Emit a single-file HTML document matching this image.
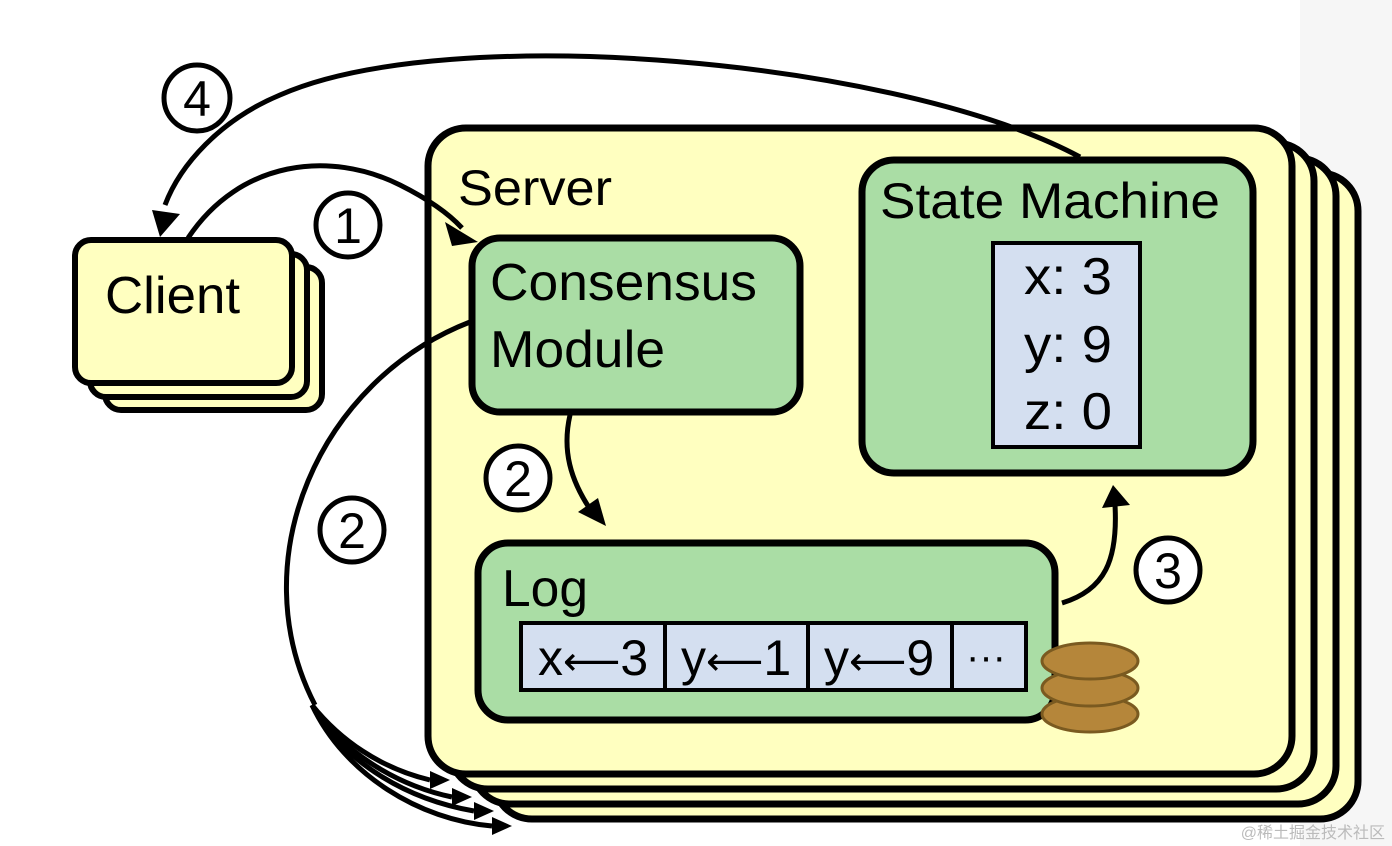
<!DOCTYPE html>
<html><head><meta charset="utf-8"><style>
html,body{margin:0;padding:0;background:#fff;}
svg{display:block;}
text{font-family:"Liberation Sans",sans-serif;fill:#000;}
.ar{font-family:"DejaVu Sans",sans-serif;}
</style></head><body>
<svg width="1392" height="846" viewBox="0 0 1392 846" xmlns="http://www.w3.org/2000/svg">
<rect x="1300" y="0" width="92" height="846" fill="#f6f6f6"/>
<!-- server stack -->
<g stroke="#000" stroke-width="7" fill="#ffffc0">
<rect x="494" y="173" width="864" height="646" rx="38"/>
<rect x="472" y="158" width="864" height="646" rx="38"/>
<rect x="450" y="143" width="864" height="646" rx="38"/>
<rect x="428" y="128" width="864" height="646" rx="38"/>
</g>
<!-- client stack -->
<g stroke="#000" stroke-width="6" fill="#ffffc0">
<rect x="105" y="267" width="217" height="143" rx="16"/>
<rect x="90" y="254" width="217" height="143" rx="16"/>
<rect x="75" y="240" width="217" height="143" rx="16"/>
</g>
<text x="105" y="313" font-size="52" textLength="135" lengthAdjust="spacingAndGlyphs">Client</text>
<text x="458" y="205" font-size="50" textLength="154" lengthAdjust="spacingAndGlyphs">Server</text>
<!-- consensus -->
<rect x="472" y="238" width="328" height="174" rx="28" fill="#aadda5" stroke="#000" stroke-width="7"/>
<text x="490" y="300" font-size="52" textLength="267" lengthAdjust="spacingAndGlyphs">Consensus</text>
<text x="490" y="367" font-size="52" textLength="175" lengthAdjust="spacingAndGlyphs">Module</text>
<!-- state machine -->
<rect x="862" y="160" width="391" height="313" rx="32" fill="#aadda5" stroke="#000" stroke-width="7"/>
<text x="880" y="218" font-size="50" textLength="340" lengthAdjust="spacingAndGlyphs">State Machine</text>
<rect x="993" y="243" width="147" height="204" fill="#d4dff0" stroke="#000" stroke-width="4"/>
<text x="1024" y="294" font-size="52" textLength="88" lengthAdjust="spacingAndGlyphs">x: 3</text>
<text x="1024" y="362" font-size="52" textLength="88" lengthAdjust="spacingAndGlyphs">y: 9</text>
<text x="1024" y="429" font-size="52" textLength="88" lengthAdjust="spacingAndGlyphs">z: 0</text>
<!-- log -->
<rect x="478" y="543" width="577" height="177" rx="30" fill="#aadda5" stroke="#000" stroke-width="7"/>
<text x="502" y="606" font-size="52" textLength="86" lengthAdjust="spacingAndGlyphs">Log</text>
<g fill="#d4dff0" stroke="#000" stroke-width="4">
<rect x="521" y="623" width="144" height="67"/>
<rect x="665" y="623" width="143" height="67"/>
<rect x="808" y="623" width="144" height="67"/>
<rect x="952" y="623" width="74" height="67"/>
</g>
<text x="538" y="675" font-size="50">x<tspan class="ar" font-size="40">⟵</tspan>3</text>
<text x="681" y="675" font-size="50">y<tspan class="ar" font-size="40">⟵</tspan>1</text>
<text x="824" y="675" font-size="50">y<tspan class="ar" font-size="40">⟵</tspan>9</text>
<text x="966" y="670" font-size="40">···</text>
<!-- coins -->
<g fill="#b5863a" stroke="#7a5a20" stroke-width="3">
<ellipse cx="1090" cy="714" rx="48" ry="18"/>
<ellipse cx="1090" cy="688" rx="48" ry="18"/>
<ellipse cx="1090" cy="661" rx="48" ry="18"/>
</g>
<!-- arrows -->
<g fill="none" stroke="#000" stroke-width="5">
<path d="M1080,157 C900,60 450,20 280,95 C220,120 180,165 165,205"/>
<path d="M188,238 C240,160 330,150 400,185 C430,200 450,215 462,228"/>
<path d="M570,415 C562,450 570,480 592,512"/>
<path d="M1062,603 C1105,590 1118,560 1115,505"/>
<path d="M470,322 C320,380 240,560 315,705"/>
<path d="M312,705 C340,740 380,768 430,780"/>
<path d="M312,705 C340,750 395,785 452,797"/>
<path d="M312,705 C345,765 410,800 474,811"/>
<path d="M312,705 C345,775 420,820 492,826"/>
</g>
<g fill="#000">
<polygon points="152,210 180,214 160,237"/>
<polygon points="578,512 606,526 598,498"/>
<polygon points="1102,508 1130,505 1113,485"/>
<polygon points="430,771 450,780 430,789"/>
<polygon points="452,788 472,797 452,806"/>
<polygon points="474,802 494,811 474,820"/>
<polygon points="492,817 512,826 492,835"/>
<polygon points="445,222 478,242 452,246"/>
</g>
<!-- numbered circles -->
<g fill="#fff" stroke="#000" stroke-width="5">
<circle cx="197" cy="98" r="33"/>
<circle cx="348" cy="225" r="32"/>
<circle cx="518" cy="478" r="32"/>
<circle cx="352" cy="530" r="32"/>
<circle cx="1168" cy="570" r="32"/>
</g>
<g font-size="50" text-anchor="middle">
<text x="197" y="116">4</text>
<text x="348" y="243">1</text>
<text x="518" y="496">2</text>
<text x="352" y="548">2</text>
<text x="1168" y="588">3</text>
</g>
<text x="1385" y="838" font-size="16" text-anchor="end" style="font-family:'Liberation Sans','Noto Sans CJK SC',sans-serif;fill:#bbb">@稀土掘金技术社区</text>
</svg>
</body></html>
